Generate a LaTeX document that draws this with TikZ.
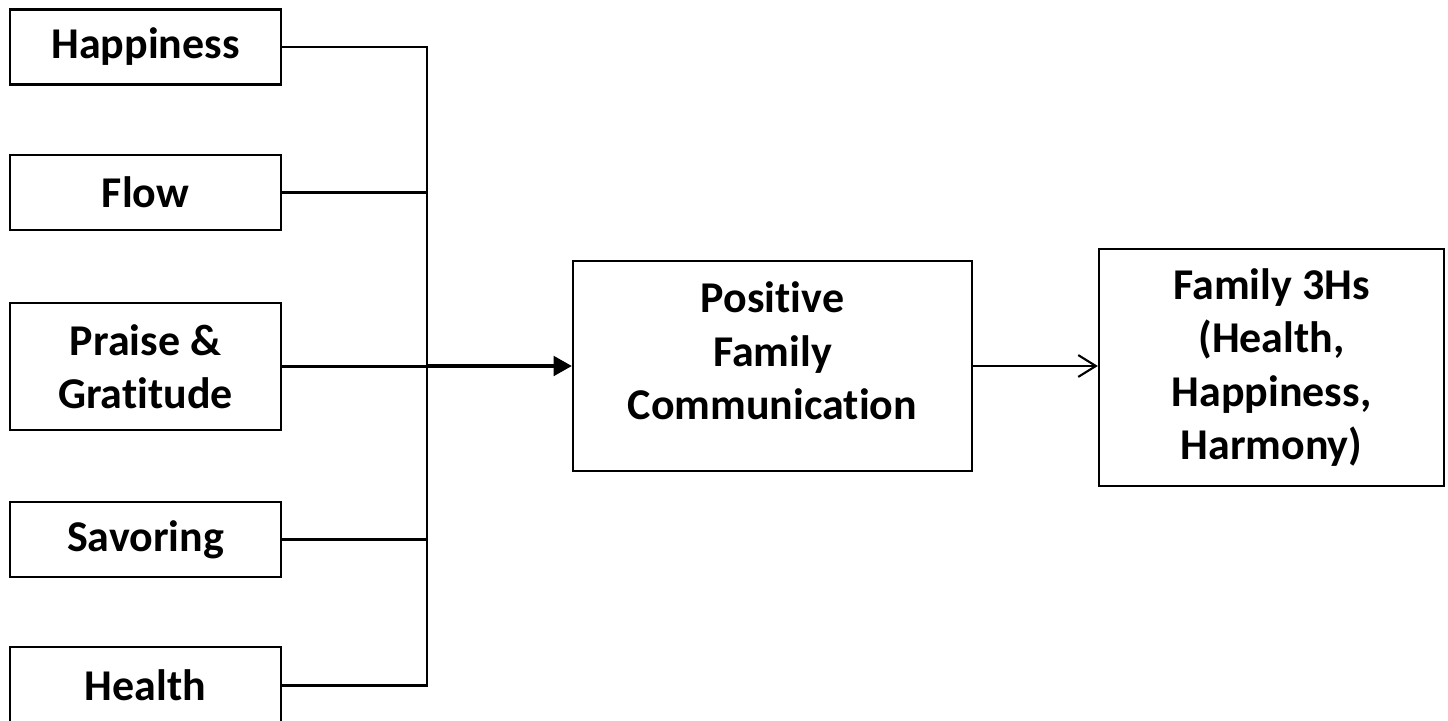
\documentclass[tikz,border=0pt]{standalone}
\usepackage{fontspec}
\setmainfont{Carlito}[Ligatures={NoCommon,NoContextual}]
\usetikzlibrary{arrows.meta}

\begin{document}
\begin{tikzpicture}[x=0.01cm, y=-0.01cm]
        \useasboundingbox (0,0) rectangle (1448,721);
        \tikzstyle{every node} = [draw, line width=0.6pt, inner sep=0pt, align=center,
            font=\bfseries\fontsize{12.5}{15.2}\selectfont]
        \tikzstyle{leaf} = [minimum width=2.71cm, minimum height=0.75cm]
        \node[leaf] (hap) at (145.5,47) {Happiness};
        \node[leaf] (flow) at (145.5,192.5) {Flow};
        \node[leaf, minimum height=1.27cm] (praise) at (145.5,366.5) {Praise \&\\Gratitude};
        \node[leaf] (sav) at (145.5,539.5) {Savoring};
        \node[leaf, minimum height=0.77cm] (hea) at (145.5,685.5) {Health};
        \node[minimum width=3.99cm, minimum height=2.10cm, text depth=0.3cm] (pfc) at (772.5,366) {Positive\\Family\\Communication};
        \node[minimum width=3.45cm, minimum height=2.37cm] (f3h) at (1271.5,367.5) {Family 3Hs\\(Health,\\Happiness,\\Harmony)};
        \coordinate (j) at (427,366);
        \foreach \from in {hap, flow, praise, sav, hea}
            \draw[line width=0.6pt] (\from.east) -| (j);
        \draw[-{Triangle[length=5.2pt,width=5.6pt]}, line width=0.9pt] (j) -- (pfc.west);
        \draw[-{Straight Barb[length=5pt,width=6.2pt]}, line width=0.6pt] (pfc.east) -- (pfc.east -| f3h.west);
    \end{tikzpicture}
\end{document}
